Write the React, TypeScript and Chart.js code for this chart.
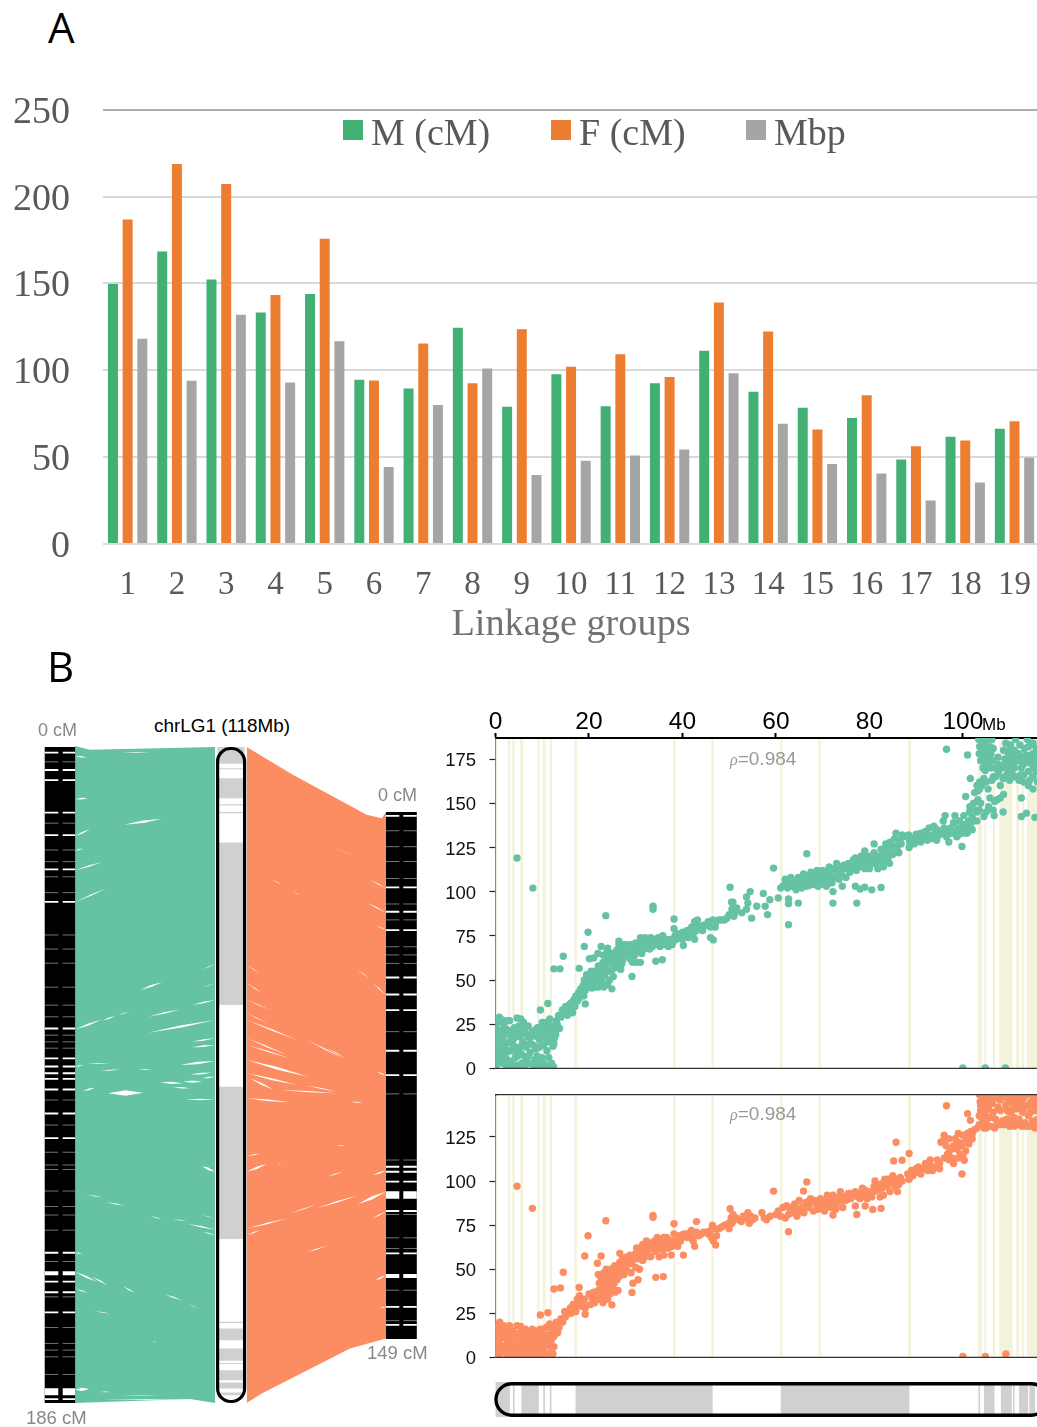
import React, { useEffect, useRef } from 'react';
import { Chart, registerables } from 'chart.js';
Chart.register(...registerables);

/* ---------- Panel A ---------- */
const groups = ['1','2','3','4','5','6','7','8','9','10','11','12','13','14','15','16','17','18','19'];
const maleLengths = [149.7,168.4,152.3,133.3,143.9,94.6,89.5,124.5,79,97.7,79.3,92.5,111.3,87.7,78.4,72.6,48.7,61.7,66.3];
const femaleLengths = [186.8,218.8,207.3,143.3,175.7,94.2,115.5,92.5,123.6,102,109.2,96.2,139,122.4,65.9,85.6,56.3,59.6,70.7];
const physicalLengths = [118.2,94,132,93,116.7,44.4,80,101,39.7,48,51,54.4,98.3,69.3,46,40.6,25,35.4,49.6];

/* ---------- Panel B: ideogram blocks (Mb) ---------- */
const ideogramBlocks = [[0,3],[3.8,4],[5.6,9.2],[10.3,10.5],[11.7,11.9],[17.2,46.4],[61.1,88.5],[103.4,103.6],[104.6,106.7],[108.2,110.4],[110.8,111],[112.1,113.9],[114.3,115.4],[116.1,116.6]];
const lowRecombination = [[0,0.3],[2.6,3.1],[3.6,4.1],[5.3,5.9],[8.9,9.4],[10.1,10.7],[11.6,12.1],[16.9,17.4],[38,38.5],[46.2,46.7],[60.9,61.4],[69.1,69.6],[88.3,88.9],[103.2,104.1],[104.6,105],[106.4,106.9],[107.8,110.6],[111.4,112.1],[112.6,113.1],[113.7,115.9],[116.2,117]];

/* linkage map gaps (cM), by thickness */
const leftGapsThin = [4.2,21.6,29.2,32.5,36.8,41.3,53.3,57.3,61.3,68.1,73.2,76.5,81.7,83.6,85.4,100.1,107.2,114.9,118.5,119.8,125.9,130.3,132.7,137,145.9,155.9,164.6,169.1,171,172.9,177.9];
const leftGapsMid = [1.6,6.5,9.4,18.6,25,34.7,43.9,79.8,88.3,90.6,92.5,94.1,97.1,103.9,110.9,143.4,151.6,154.6,160.3,184.9];
const leftGapsWide = [149.2];
const leftGapsHuge = [182.8];
const rightGapsThin = [5.3,9.8,14,18.8,26,30.5,38.1,40.4,42.8,62.1,79.7,98.4,113.8,120.4,123.4,135.2,143.8];
const rightGapsMid = [1.1,21.3,28.2,33.4,46.8,51.6,56,67.5,74.4,100.3,101.7,104.5,112.8,124.8,139.9,145];
const rightGapsWide = [131.2];
const rightGapsHuge = [108.3];

/* ribbons: [track position, Mb] */
const maleRibbonTop = [[75,-0.2],[90,0.5],[215,0]];
const maleRibbonBottom = [[75,118],[190,117.3],[215,118]];
const femaleRibbonTop = [[246.7,0],[293.3,5.04],[366.7,12.2],[381.7,12.8],[386,11.7]];
const femaleRibbonBottom = [[246.7,118],[261.7,116.3],[350,108.2],[386,106.4]];

/* gaps between links: [track from, Mb from, track to, Mb to, thickness in Mb] */
const maleSlivers = [
[124,14,162,12.9,.45],[75,16,90,14.8,.35],[75,22.2,102,20.7,.3],[75,27.9,107,25.4,.25],[140,43.7,162,42.3,.35],[75,50.8,102,49,.35],[103,49.2,115,48.4,.25],[118,48.2,129,47.6,.15],[148,48.5,180,47.2,.3],[192,46.4,215,45.5,.25],[148,51.4,215,49.1,.4],[192,53,215,52.4,.3],[192,54,215,53.6,.3],[203,40,215,39,.12],[203,43.2,215,42.5,.12],[122,1,150,1,.12],[75,9.4,88,9.2,.3],[75,18.6,83,18.3,.25],[75,1.6,87,1.9,.25],
[180,57.2,215,56.5,.45],[183,60.2,202,60.2,.4],[160,60.3,183,60.5,.4],[108,62.3,143,62.2,1],[190,58.9,212,58.6,.35],[185,63.4,215,63.4,.25],[202,59.6,215,59.3,.3],[173,61.2,190,61.4,.3],[83,61.9,95,61.3,.3],[75,57.5,83,57.2,.2],[87,56.9,110,56.9,.12],[100,58.3,120,58,.15],[138,58,152,58,.12],[202,75.4,215,76.4,.5],[87,80.6,103,81,.12],[106,81.9,125,82.5,.15],[150,84.3,162,85,.12],[172,85,187,85.2,.12],[188,85.8,215,86.8,.25],[203,87.2,215,87.8,.2],[202,84.2,215,84.8,.1],[75,94.4,97,96.2,.35],[92,95.3,108,96.8,.25],[123,97,135,98.2,.2],[165,98.5,182,99.5,.2],[188,100.2,198,101,.1],[95,101.5,110,101.9,.15],[152,106.8,157,107.1,.1],[75,115.6,89,115.5,.6],[100,116,110,116,.12],[102,117.4,190,117.3,.12],[120,116.7,160,116.7,.08],[75,97.4,88,98.2,.2],[75,91,82,91.1,.2]
];
const femaleSlivers = [
[272,23.8,282,24.8,.12],[293,26,300,26.6,.08],[370,23.9,386,25.4,.2],[367,28,386,29.8,.2],[377,32.2,386,32.9,.2],[335,18.2,355,19.7,.08],[247,39.2,260,40.7,.15],[247,42.5,262,44.3,.15],[247,45.5,270,47.3,.15],[247,47.9,268,49.7,.15],[247,49.1,297,52.7,.3],[307,52.7,343,56,.2],[357,40.1,370,41.6,.15],[373,42.5,386,44.6,.2],[247,52.4,287,55.4,.2],[247,53.6,290,56,.2],[328,54.2,345,56,.2],
[247,56.3,308,59.3,.5],[247,58.7,297,60.8,.35],[250,59.6,273,61.6,.4],[280,61.7,337,62.3,.2],[247,63.2,290,63.9,.3],[350,63.8,363,64,.2],[306,60.9,337,62,.18],[377,58.4,386,59.1,.2],[337,71.7,345,71.6,.12],[247,73.6,260,73.1,.15],[247,76.4,267,75,.45],[277,75.4,282,74.6,.1],[327,77.3,343,76.4,.15],[373,77,386,76.2,.3],[358,82.2,386,80,.6],[316,83,357,80.7,.3],[290,83.9,315,82.4,.2],[372,84.8,386,83.6,.25],[247,86.6,287,84.8,.25],[247,87.8,260,86.9,.25],[307,90.9,327,89.7,.2],[375,96,386,95,.3],[380,100.9,386,100.7,.2]
];

/* ---------- Panel B: marker positions [Mb, cM] ---------- */
const maleMarkers = [
[0.2,2],[0.3,6],[0.3,10],[0.4,14],[0.3,18],[0.4,22],[0.5,26],[0.8,29],[1.1,28],[1.3,3],[1.2,8],[1.3,12],[1.5,17],[1.6,22],[1.8,25],[2.2,27],[2.4,22],[2.6,1],[2.4,5],[2.7,10],[2.9,15],[2.7,20],[3,27],[3.2,4],[3.4,1],[3.6,14],[3.8,10],[4,17],[4.2,6],[4.4,2],[4.6,12],[4.6,28.5],[4.6,119],[5.2,18],[5.4,28],[5.6,3],[5.6,8],[5.8,15],[6,22],[6,26],[6.3,1],[6.4,6],[6.6,12],[6.8,18],[7,24],[7.3,3],[7.4,9],[7.6,14],[7.9,21],[8,102],[8.2,1],[8.4,5],[8.6,11],[8.8,18],[9,23],[9.2,3],[9.4,16],[9.5,22.5],[9.6,33],[9.7,1],[10,6],[10.2,18],[10.4,2.5],[10.6,17],[10.9,23],[11,10],[11.2,1.5],[11.2,36.7],[11.4,21],[11.6,28],[11.8,18],[12,3],[12.1,20],[12.3,12.5],[12.5,14],[12.4,1],[12.5,56.3],
[12.6,22],[13,27],[13.2,25],[13.7,22.6],[13.5,30],[13.8,56.3],[14,29],[14.3,33],[14.5,63.4],[14.8,31],[15,35],[15.4,30],[15.8,36],[16,33],[16.2,37],[16.5,31.5],[16.8,39],[17,35],[17.2,41],[17.5,38],[17.8,43],[17.9,56.6],[18,40],[18.2,45],[18.5,42],[18.8,47],[18.9,41],[19,50],[19,69],[19.2,44],[19.2,36.5],[19.6,48],[19.8,77],[19.9,51],[20.1,62],[20.2,47],[20.4,50],
[20.6,45.5],[20.9,48],[21,52],[21,62.5],[21.3,46],[21.6,49],[21.8,53],[21.9,65],[22,46],[22.2,51],[22.4,55],[22.6,47],[22.6,69],[22.8,50],[23,56],[23,60],[23.1,64],[23.2,46],[23.4,53],[23.6,58],[23.6,86.4],[23.8,62],[23.9,66],[24,47.5],[24.2,55],[24.4,50],[24.6,60],[24.7,64],[24.9,45],[25,56],[25.2,52],[25.4,59],[25.6,62],[25.8,66],[26,57],[26.2,63],[26.4,70],[26.5,60],[26.8,56],[26.9,67],[27,64],[27.2,61],[27.4,70],
[26.4,72],[27.5,68],[28,70],[28.4,66],[28.8,62],[29,70],[29.2,52],[29.3,60],[29.5,68],[29.8,64],[30,71],[30.2,60],[30.4,66],[30.8,70],[31,60],[31,74],[31,67],[31.4,71],[31.6,69],[32,74],[32.2,70],[32.6,72],[33,71],[33.2,74],[33.6,69],[33.7,91.7],[33.7,90],[34,73],[34.3,60.6],[34.4,70],[34.8,74],[35.2,69],[35.4,72],[35.7,61.5],[35.8,75],[36,70],[36.4,73],[36.8,71],[37,69],[37.4,73],[37.8,70],[38.2,84.5],[38.2,79],[38.4,75],[38.7,73],[39,76],[39.4,74],[40.2,69.5],[40,77],[40.5,75],[41,78],[41.3,74],[41.6,76],[42,80],[42.3,76],[42.6,83],[42.6,73],[43,78],[43.2,84],[43.5,80],[44,80],[44.5,81],[45,81],[45.5,83],[46,80],[46,74],[46.6,72.7],[46.5,84],[47,80],[47.2,83],[47.8,84],[48.4,84],[49,84],[49.5,85],[50,87],[50.2,102.5],[50.5,94],[50.8,94],[50.6,90],[51,86],[51.2,88],[51.5,90],
[51.6,90.7],[52.7,88],[53.7,90],[54.8,85],[54.5,100],[53.7,97],[54,93.5],[55.9,91.7],[57.3,99],[58.2,87],[57.7,91.7],[58.7,95.4],[60.5,96.4],[59.5,113.3],[61,102],[62,104.8],[62.7,95.8],[62.7,93.2],[62.7,81.3],[64.8,93.5],
[61.5,103],[62.5,102],[63,105],[63.5,103],[64,106],[64.3,101],[64.8,108],[65,104],[65.5,102],[65.9,110],[66,105],[66.6,121.4],[66.5,103],[67,108],[67.3,106],[67.5,111],[68,104],[68.2,109],[68.5,106],[69,103],[69,110],[69.5,107],[70,105],[70,112],[70.5,109],[70.8,103],[71,107],[71.4,114],[71.6,110],[72,105],[72.2,100],[72.2,93.5],[72.5,108],[73,112],[73,116],[73.5,107],[74,110],[74.2,103],[74.5,115],[75,113],[75.5,116],[76,113],[76.3,116],[76.8,114],[77,119],[77,103],[77.2,112],[77.3,93.5],[77.5,116],[78,114],[78,101.5],[78.2,120],[78.8,118],[79,123],[79,113],[79,102.5],[79.5,116],[80,120],[80,113],[80.5,118],[80.5,101],[81,127],[81,122],[81.2,116],[81.8,113],[82,120],[82.5,124],[82.5,102.3],[82.8,117],[83,114],[83.3,122],[83.5,127],[84,119],[84,125],[84.4,128],[84.7,122],[85,126],[85.4,130],[85.7,133],[86,126],[86.3,122],[86.5,129],[87,132],[87.5,131],[88.4,132],[88.5,125],[88.6,128],
[89,130],[89.6,127],[90,129],[90.4,131],[91,128],[91.5,131],[92,134],[92.4,129],[92.8,136],[93,131],[93.5,130],[93.8,137],[94,133],[94.4,129],[95,132],[95.5,134],[95.8,140],[96,136],[96.2,143],[96.5,180.5],[96.5,131],[96.8,134],[97,128],[97.5,133],[98,139],[98,134],[98.3,143],[98.7,131],[99,136],[99.3,140],[99.8,125.5],[99.8,133],[100.2,138],[100.6,153.8],[100.2,143],[100.8,133],[101,177.3],[101,137],[101.2,140],[101.4,145],[101.6,164],[101.5,148],[102,135],[102,142],[102.3,150],[102.5,156],[102.8,146],[103,160],[103.2,152],[103,140],[103.6,158],[103.8,150],[103.5,146],
[103.4,186],[103.6,182],[103.5,178],[103.8,174],[104,186],[104.2,180],[104.5,176],[104.7,183],[104.8,168.5],[105,172],[105.2,186],[105.3,179],[105.5,175],[105.8,182],[106,170],[106,178],[106.2,186],[106.3,174],[106.5,181],
[103.2,157],[103.6,162],[104,160],[104.5,164],[105,162],[105.4,158],[105.8,153],[106.2,163],[106.5,165],[106.8,151],[107,165],[107.3,152],[107.6,167],[108,160],[108,153],[108.3,170],[108.6,164],[108.7,155],[108.6,145],[109,172],[106.7,143],[106.5,146],[105.5,148],[105,145],[104.5,142.5],
[108.7,180],[109,175],[109.2,184],[109.5,170],[109.8,178],[110,173],[110.2,183],[110.5,167],[110.6,176],[111,180],[111,170],[111.3,186],[111.5,174],[111.8,165],[112,178],[112.2,183],[112.5,153],[112.5,142.5],[112.5,170],[112.8,176],[113,166],[113.2,181],[113.6,144.4],[113.5,173],[113.8,186],[114,168],[114,177],[114.3,163],[114.6,183],[114.8,172],[115,165],[115,178],[115.4,142],[115.4,175],[115.7,168],[115.8,181],[116,172],[116,162],
[100,0.2],[104.8,0.2],[109.1,0.2]
];
const maleMarkersDense = [
[62,107],[63.2,108],[64.4,104],[65.2,107],[66.2,109],[67,103.5],[68,107],[68.8,112],[69.8,109.5],[70.3,104],[71.2,111],[72.4,113],[73.3,110],[74,113],[75,108],[75.8,111],[76.6,118],[77.8,117],[78.4,116],[79.2,119],[80.3,115.5],[81.5,119],[82.2,117],[83.2,119],[84.3,116],[85,121],[86,123],[86.8,127],[24,68],[25,65],[25.3,61],[26,67],[27,59],[23.5,56],[22,58],[21.3,55],[20.5,55],[19.5,53],[28,64],[29,66],[30,68],[31.3,65],[32.4,68],[33,67.5],[34,71],[35,70.5],[36,73.5],[37.2,72],[38,71.5],[39,74],[40,73],[41,76],[43,81],[44.3,78],[90,132.5],[91,133],[92.6,132],[94.5,135],[96.2,133],[97.4,136],[99,132],[100,136],[101,133.5],[101.8,139],[103,145],
[104.3,170],[105,176],[105.6,171],[109.4,174],[110,180],[110.8,172],[111.2,177],[112,174],[112.4,166],[113,172],[113.4,177],[114,182],[114.4,174],[115,184],[115.2,170],[115.6,178],[109,165],[109.6,167],[110,163],[111,165],[112,163],[113,162],[114,160],[115,158],[107.5,176],[108,170],[107,170],[107.6,172],
[1,5],[1.7,12],[2,19],[2.2,14],[3.2,10],[3.3,21],[3.4,17],[4,23],[4.4,20],[4.8,7],[5,24],[5.2,12],[5.5,21],[6.4,20],[6.8,3],[7.1,14],[7.6,18],[8.2,13],[8.6,22],[8.9,7],[9.4,12],[9.8,19],[10.3,13],[10.7,21],[11.4,6],[11.5,15],[12,24],[12.6,17],[12.9,19],[10,26],[11,26],[2.2,2],[1.8,6],[2.3,9],[4.8,1.5],[7,7],[0.8,15],[0.9,21],[1,10],[5,10]
];

const femaleMarkers = [
[0.2,1],[0.3,4],[0.3,8],[0.4,12],[0.3,15],[0.5,18],[0.9,20],[1,2],[1.1,7],[1.2,11],[1.4,15],[1.8,18],[2,3],[2.2,6],[2.4,13],[2.5,1],[2.6,9],[2.8,17],[3,18],[3,4],[3.3,1],[3.5,11],[3.8,6],[4,14],[4.2,2],[4.4,8],[4.6,18],[4.6,97],[4.8,13],[5,1],[5.2,5],[5.4,17.5],[5.6,10],[5.8,13],[6,2],[6.2,7],[6.4,16],[6.6,1],[6.8,11],[7,4],[7.2,14],[7.4,1],[7.6,9],[7.9,16],[7.9,84.5],[8.1,3],[8.3,6],[8.5,12],[8.7,1],[8.9,15],[9.2,4],[9.4,10],[9.6,16],[9.6,24],[9.8,1],[10,7],[10.2,13],[10.4,3],[10.6,9],[10.8,17],[11,2],[11.2,7],[11.2,25.3],[11.4,13],[11.6,19],[11.9,4],[12,10],[12.2,14],[12.3,2],[12.5,6],[12.5,38.8],
[12.8,16],[13,20],[13.3,14],[13.6,17],[13.9,39.4],[14,22],[14.4,20],[14.5,48.3],[14.8,26],[15,23],[15.5,25],[16,28],[16.2,25],[16.6,30],[17,27],[17.2,26],[17.5,33],[17.8,30],[17.9,39.6],[18,35],[18.4,29],[18.8,31],[19,33],[19.1,57.5],[19.2,28],[19.2,24.5],[19.8,69],
[20,36],[20.3,30],[20.6,34],[21,37],[21.2,31],[21.5,33],[21.8,53.4],[22,38],[22.2,42],[22.4,33],[22.6,45],[22.6,57.5],[22.8,36],[23,31],[23,40],[23.2,48],[23.4,35],[23.6,43],[23.6,77.5],[23.7,50],[23.9,38],[24,33],[24.1,46],[24.3,41],[24.5,36],[24.6,50],[24.8,44],[24.9,29.8],[25,39],[25.2,47],[25.4,42],[25.6,37],[25.8,48],[26,44],[26.2,38],[26.3,50],[26.5,46],[26.6,54],[26.6,59],[27,52],[27.2,56],[27.4,50],[27.5,47],
[27.8,53],[28,57],[28.4,54],[28.8,58],[29,48],[29.2,53],[29.2,36.8],[29.4,42],[29.6,56],[30,59],[30,51],[30.2,62],[30.5,56],[30.5,44],[30.8,50],[31,62],[31.2,58],[31.5,64],[31.8,60],[32,57],[32.3,66],[32.6,60],[33,64],[33.2,57],[33.6,62],[33.7,80.5],[33.7,79.4],[34,66],[34.2,60],[34.3,45.4],[34.6,68],[35,63],[35,57],[35.3,66],[35.6,61],[35.9,45.8],[36,68],[36,58],[36.3,64],[36.6,68],[37,62],[37.2,66],[37.6,58],[37.8,63],
[38.2,70],[38.2,75.8],[38.5,66],[39,63],[39.4,69],[40,69.5],[40.2,58],[40.4,70],[41,70],[41.5,68],[41.9,72],[42.3,66],[42.5,70],[42.6,63],[43,71],[43,77],[44,70],[44.5,71],[45,71],[45.5,70],[46,72],[46.2,68],[46.4,75],[46.6,66],[47.1,63.7],[47,73],[47.3,69],[47.8,73],[48.4,74],[49,75],[49.8,76],[50,73],[50.2,84.3],[50.4,79],[50.6,76],[50.8,81],[51,78],[51.5,79],
[52,78],[52.6,77],[53,80],[53.5,79],[54,82],[54.3,76],[54.6,80],[55,78],[55.5,79],[57,82],[57.5,79],[58,78],[58.8,80],[59.5,94.3],[60,81],[60.5,83],[61,80],[61.5,85],
[62,79],[62.3,86],[62.7,81],[62.7,71.3],[63,84],[63.5,82],[64,87],[64.5,80],[64.8,83],[65,89],[65.5,85],[65.9,94.3],[66,82],[66.5,88],[66.6,99.5],[67,85],[67.4,90],[68,83],[68.5,87],[69,84],[69.5,90],[70,86],[70.4,83],[71,92],[71.3,88],[71.8,85],[72.2,92],[72.2,80.7],[72.5,88],[72.8,84],[73.4,91],[73.8,94],[74,89],[74.3,85],[74.9,91],[75.5,93],[76,90],[76.5,92],[77,94],[77,85.8],[77.3,81],[77.5,91],[78,93],[78.5,96],[79,92],[79.1,85.8],[79.5,90],[80,94],[80.5,91],[80.7,83.9],[81,94],[81.2,100],[81.6,95],[82,98],[82.3,91],[82.5,84.5],[82.8,96],[83,92],[83.3,101],[83.8,97],[84,101],[84.4,94],[84.7,99],[85,103],[85.2,111.4],[85.5,97],[85.7,100],[85.7,122],[86,94],[86.3,98],[86.6,102],[87,100],[87,111.8],
[88.2,104],[88.5,101],[88.5,115.6],[89,106],[89.3,103],[90,105],[90.5,108],[91,104],[91.5,107],[92,110],[92.5,106],[93,109],[93.5,106],[94,108],[94.5,112],[95,110],[95.3,122],[95.8,123],[96,126],[96.4,120],[96.5,142.7],[96.7,115],[97,112],[97,124],[97.5,118],[97.8,113],[98,110],[98.4,124],[98.8,118],[99,127],[99,113],[99.4,115],[99.8,120],[99.8,104],[100,126],[100.3,122],[100.3,111.8],[100.6,117],[101,127],[101,138.2],[101.3,121],[101.6,128],[101.6,134.4],[102,124],[102.4,129],
[103,130],[103.5,132],[103.5,149],[103.7,145],[103.8,140],[104,136],[104.2,148],[104.5,143],[104.5,130],[104.8,137],[105,149],[105,133],[105.3,145],[105.5,141],[105.8,148],[106,136],[106,131],[106.3,144],[106.5,139],[106.7,149],[106.8,130],[107,135],[107.5,133],[108,132],[108.5,134],[108.8,132],[109,148],[109.2,143],[109.4,135],[109.7,146],[110,139],[110,133],[110.3,149],[110.6,144],[110.9,136],[111,146],[111.3,133],[111.5,141],[111.8,148],[112,135],[112.3,145],[112.6,131],[112.8,139],[113,147],[113.3,133],[113.6,143],[113.9,149],[114,137],[114.3,131],[114.6,145],[114.9,134],[115.2,148],[115.4,130],[115.5,140],[115.8,144],[116,135],
[100,0.5],[104.8,0.5],[109.2,1.9]
];
const femaleMarkersDense = [
[63.4,85],[64.2,84],[65.3,82.5],[66.3,86],[67.2,88],[68.2,89],[69.3,87],[70.2,89],[71,86],[72,90],[73,87.5],[74,92],[75,89],[76,93],[77.2,92.5],[78,90],[79,95],[80.2,92.5],[81,97],[82,95],[83,99],[84,98],[85,99],[86,101],[22,47],[23,44],[24,43],[25,44],[25.5,52],[26,50],[24.5,47],[23.5,38],[22.2,35],[27,48],[28,50],[29,55],[30.5,60],[31.5,55],[32.5,62],[33.5,65],[34.5,62],[35.5,64],[36.5,62],[37.5,66],[38.8,68],[39.6,66],[41,68],[43.5,69],[90,107],[92,107],[93,112],[95,107],[96,113],[97,116],[98,120],[99,122],[100,114],[101,123],[102,127],
[104,143],[105,140],[106,145],[107,147],[108,146],[108,140],[109.5,140],[110.5,140],[111,141],[112,143],[112.5,147],[113,141],[114,143],[114.5,139],[115,143],[115.5,146],[104,132],[105,130],[107,131],[109,132],[110,131],[111,131],[112,132],[113.5,131],[115,132],[116,131],[104.5,146],[105.5,145],[106.5,147],[103.5,137],[103.8,143],[108.3,148],[107.5,142],
[0.7,10],[1.6,4],[2,11],[2.3,16],[3.3,8],[3.6,15],[4,10],[4.9,4],[5.2,14],[5.8,5],[6.4,12],[7,8],[7.8,5],[8,11],[8.5,2],[9,8],[9.6,12],[10.2,5],[10.8,12],[11.5,10],[12,17],[12.5,12],[5,8],[3.7,3]
];

const GREEN = '#66C2A5';
const CORAL = '#FC8D62';
const SERIF = '"Liberation Serif"';
const SANS = '"Liberation Sans"';

const sliverSets = (list: number[][]) => list.flatMap(([x0, y0, x1, y1, w]) => {
  const xm = (x0 + x1) / 2, ym = (y0 + y1) / 2;
  const base = { borderWidth: 0, pointRadius: 0, yAxisID: 'y', tension: 0 };
  return [
    { ...base, fill: false, data: [{ x: x0, y: y0 }, { x: xm, y: ym - w / 2 }, { x: x1, y: y1 }] },
    { ...base, fill: '-1', backgroundColor: '#fff', data: [{ x: x0, y: y0 }, { x: xm, y: ym + w / 2 }, { x: x1, y: y1 }] },
  ];
});
const ribbonSets = (top: number[][], bottom: number[][], color: string) => {
  const base = { borderWidth: 0, pointRadius: 0, yAxisID: 'y', tension: 0 };
  return [
    { ...base, fill: false, data: top.map(([x, y]) => ({ x, y })) },
    { ...base, fill: '-1', backgroundColor: color, data: bottom.map(([x, y]) => ({ x, y })) },
  ];
};
const gapSet = (values: number[], x0: number, x1: number, x2: number, x3: number, axis: string, width: number, color = '#fff') => ({
  borderWidth: width, borderColor: color, pointRadius: 0, yAxisID: axis, fill: false,
  data: values.flatMap(v => [{ x: x0, y: v }, { x: x1, y: v }, { x: x1, y: null }, { x: x2, y: v }, { x: x3, y: v }, { x: x3, y: null }]),
});
const THIN = 'rgba(255,255,255,0.45)';

const bandsPlugin = (frameTop: boolean) => ({
  id: 'bands',
  beforeDatasetsDraw(chart: any) {
    const { ctx, chartArea: a, scales } = chart;
    ctx.save();
    ctx.fillStyle = '#F3F3DC';
    lowRecombination.forEach(([from, to]) => {
      const l = scales.x.getPixelForValue(from), r = scales.x.getPixelForValue(to);
      ctx.fillRect(l, a.top + 1, r - l, a.bottom - a.top - 1);
    });
    ctx.restore();
  },
  afterDraw(chart: any) {
    const { ctx, chartArea: a } = chart;
    ctx.save();
    ctx.strokeStyle = '#333';
    ctx.lineWidth = 1.4;
    ctx.beginPath();
    ctx.moveTo(a.left, a.bottom); ctx.lineTo(a.right, a.bottom);
    if (frameTop) { ctx.moveTo(a.left, a.top); ctx.lineTo(a.right, a.top); }
    ctx.stroke();
    ctx.restore();
  },
});

const scatterConfig = (points: number[][], color: string, yMax: number, topAxis: boolean) => ({
  type: 'scatter',
  data: { datasets: [{ data: points.map(([x, y]) => ({ x, y })), pointRadius: 3.7, borderWidth: 0, backgroundColor: color, clip: 0 }] },
  plugins: [bandsPlugin(!topAxis)],
  options: {
    animation: false, responsive: false, events: [],
    layout: { autoPadding: false, padding: 0 },
    plugins: { legend: { display: false }, tooltip: { enabled: false } },
    scales: {
      x: {
        type: 'linear', position: 'top', min: 0, max: 118, display: topAxis, z: 1,
        afterFit: topAxis ? (s: any) => { s.height = 38; } : undefined,
        border: { color: '#000', width: 2 },
        grid: { drawOnChartArea: false, tickColor: '#000', tickWidth: 2, tickLength: 5 },
        ticks: { stepSize: 20, includeBounds: false, maxRotation: 0, padding: -4, color: '#000', font: { family: SANS, size: 24.5 } },
      },
      y: {
        min: 0, max: yMax, z: 1,
        afterFit: (s: any) => { s.width = 65.5; },
        border: { color: '#222', width: 1.4 },
        grid: { drawOnChartArea: false, tickColor: '#222', tickWidth: 1.2, tickLength: 6 },
        ticks: { stepSize: 25, includeBounds: false, padding: 13.5, labelOffset: 2, color: '#111', font: { family: SANS, size: 18.5 } },
      },
    },
  },
});

const Label = ({ left, top, size, color = '#000', family = SANS, children }: any) => (
  <div style={{ position: 'absolute', left, top, fontFamily: family, fontSize: size, color, lineHeight: 1, whiteSpace: 'nowrap' }}>{children}</div>
);
const Rho = ({ left, top }: any) => (
  <Label left={left} top={top} size={19} color="#999"><span style={{ fontFamily: SERIF, fontStyle: 'italic', fontSize: 16 }}>ρ</span>=0.984</Label>
);
const seriesColors = ['#42AF73', '#ED7D31', '#A5A5A5'];
const legendEntries = [
  { name: 'M (cM)', box: 343, text: 371 },
  { name: 'F (cM)', box: 551, text: 579 },
  { name: 'Mbp', box: 746, text: 774 },
];

export default function App() {
  const barRef = useRef<HTMLCanvasElement>(null);
  const ribbonRef = useRef<HTMLCanvasElement>(null);
  const maleRef = useRef<HTMLCanvasElement>(null);
  const femaleRef = useRef<HTMLCanvasElement>(null);
  const ideoRef = useRef<HTMLCanvasElement>(null);

  useEffect(() => {
    const charts: Chart[] = [];
    charts.push(new Chart(barRef.current as any, {
      type: 'bar',
      data: {
        labels: groups,
        datasets: [
          { label: 'M (cM)', data: maleLengths, backgroundColor: seriesColors[0] },
          { label: 'F (cM)', data: femaleLengths, backgroundColor: seriesColors[1] },
          { label: 'Mbp', data: physicalLengths, backgroundColor: seriesColors[2] },
        ],
      },
      options: {
        animation: false, responsive: false, events: [],
        layout: { autoPadding: false, padding: 0 },
        datasets: { bar: { categoryPercentage: 0.894, barPercentage: 0.68 } },
        plugins: { legend: { display: false }, tooltip: { enabled: false } },
        scales: {
          x: {
            afterFit: (s: any) => { s.height = 106; },
            grid: { display: false }, border: { display: false },
            ticks: { autoSkip: false, maxRotation: 0, padding: 14, color: '#595959', font: { family: SERIF, size: 33 } },
            title: { display: true, text: 'Linkage groups', color: '#767171', font: { family: SERIF, size: 38.3 }, padding: { top: 0, bottom: 2 } },
          },
          y: {
            min: 0, max: 250,
            afterFit: (s: any) => { s.width = 103; },
            border: { display: false },
            grid: { color: (c: any) => (c.tick.value === 250 ? '#ADADAD' : '#D9D9D9'), lineWidth: 2, tickColor: 'transparent', tickLength: 33 },
            ticks: { stepSize: 50, padding: 0, labelOffset: 3, color: '#595959', font: { family: SERIF, size: 38 } },
          },
        },
      },
    } as any));

    const ideogramPoints = ideogramBlocks.flatMap(([a, b]) => [{ x: 231, y: a }, { x: 231, y: b }, { x: 231, y: null }]);
    charts.push(new Chart(ribbonRef.current as any, {
      type: 'line',
      data: {
        datasets: [
          gapSet(leftGapsHuge, 44.7, 58.3, 62.7, 75.1, 'yL', 7),
          gapSet(leftGapsWide, 44.7, 58.3, 62.7, 75.1, 'yL', 4),
          gapSet(leftGapsMid, 44.7, 58.3, 62.7, 75.1, 'yL', 1.9),
          gapSet(leftGapsThin, 44.7, 58.3, 62.7, 75.1, 'yL', 1, THIN),
          gapSet(rightGapsHuge, 386, 399.3, 403.3, 416.8, 'yR', 7.5),
          gapSet(rightGapsWide, 386, 399.3, 403.3, 416.8, 'yR', 4),
          gapSet(rightGapsMid, 386, 399.3, 403.3, 416.8, 'yR', 1.9),
          gapSet(rightGapsThin, 386, 399.3, 403.3, 416.8, 'yR', 1, THIN),
          { borderWidth: 30.4, borderColor: '#000', pointRadius: 0, yAxisID: 'yL', fill: false, data: [{ x: 59.9, y: 0 }, { x: 59.9, y: 186 }] },
          { borderWidth: 30.8, borderColor: '#000', pointRadius: 0, yAxisID: 'yR', fill: false, data: [{ x: 401.4, y: 0 }, { x: 401.4, y: 149 }] },
          { borderWidth: 27, borderColor: '#D0D0D0', pointRadius: 0, yAxisID: 'y', fill: false, data: ideogramPoints },
          ...sliverSets(maleSlivers),
          ...sliverSets(femaleSlivers),
          ...ribbonSets(maleRibbonTop, maleRibbonBottom, GREEN),
          ...ribbonSets(femaleRibbonTop, femaleRibbonBottom, CORAL),
        ],
      },
      plugins: [{
        id: 'capsule',
        afterDatasetsDraw(chart: any) {
          const { ctx, scales } = chart;
          const l = scales.x.getPixelForValue(217.6), r = scales.x.getPixelForValue(244.6);
          const t = scales.y.getPixelForValue(0) + 1.5, b = scales.y.getPixelForValue(118) - 1.5;
          ctx.save();
          ctx.strokeStyle = '#000'; ctx.lineWidth = 3.2;
          ctx.beginPath(); ctx.roundRect(l, t, r - l, b - t, 13); ctx.stroke();
          ctx.restore();
        },
      }],
      options: {
        animation: false, responsive: false, events: [],
        layout: { autoPadding: false, padding: 0 },
        plugins: { legend: { display: false }, tooltip: { enabled: false } },
        scales: {
          x: { type: 'linear', min: 0, max: 440, display: false },
          y: { type: 'linear', min: -1.26, max: 119.26, reverse: true, display: false },
          yL: { type: 'linear', min: -1.985, max: 187.985, reverse: true, display: false },
          yR: { type: 'linear', min: -20.36, max: 169.07, reverse: true, display: false },
        },
      },
    } as any));

    charts.push(new Chart(maleRef.current as any, scatterConfig([...maleMarkers, ...maleMarkersDense], GREEN, 186.9, true) as any));
    charts.push(new Chart(femaleRef.current as any, scatterConfig([...femaleMarkers, ...femaleMarkersDense], CORAL, 149, false) as any));

    charts.push(new Chart(ideoRef.current as any, {
      type: 'bar',
      data: {
        labels: ['chrLG1'],
        datasets: ideogramBlocks.map(b => ({ data: [b], backgroundColor: '#D0D0D0', borderWidth: 0 })),
      },
      plugins: [{
        id: 'capsule',
        afterDatasetsDraw(chart: any) {
          const { ctx, scales, chartArea: a } = chart;
          const l = scales.x.getPixelForValue(0) + 0.5, r = scales.x.getPixelForValue(118);
          ctx.save();
          ctx.strokeStyle = '#000'; ctx.lineWidth = 3.4;
          ctx.beginPath(); ctx.roundRect(l, a.top + 1.7, r - l, a.bottom - a.top - 3.4, 16); ctx.stroke();
          ctx.restore();
        },
      }],
      options: {
        indexAxis: 'y', animation: false, responsive: false, events: [],
        layout: { autoPadding: false, padding: { left: 65.5, right: 0, top: 7, bottom: 8 } },
        datasets: { bar: { grouped: false, barPercentage: 1, categoryPercentage: 1 } },
        plugins: { legend: { display: false }, tooltip: { enabled: false } },
        scales: {
          x: { type: 'linear', min: 0, max: 118, display: false },
          y: { display: false },
        },
      },
    } as any));
    return () => charts.forEach(c => c.destroy());
  }, []);

  const place = (left: number, top: number): React.CSSProperties => ({ position: 'absolute', left, top, display: 'block' });
  return (
    <div style={{ position: 'absolute', left: 0, top: 0, width: 1037, height: 1427, overflow: 'hidden', background: '#fff' }}>
      <canvas ref={barRef} width={1045} height={563} style={place(0, 87)} />
      <canvas ref={ribbonRef} width={440} height={670} style={place(0, 740)} />
      <canvas ref={maleRef} width={617} height={393} style={place(430, 700)} />
      <canvas ref={femaleRef} width={617} height={312} style={place(430, 1070)} />
      <canvas ref={ideoRef} width={617} height={50} style={place(430, 1375)} />

      <Label left={48} top={6} size={42} family='"Open Sans"'>A</Label>
      <Label left={47} top={645} size={42} family='"Open Sans"'>B</Label>
      {legendEntries.map((e, i) => (
        <React.Fragment key={e.name}>
          <div style={{ position: 'absolute', left: e.box, top: 120, width: 20, height: 20, background: seriesColors[i] }} />
          <Label left={e.text} top={113} size={38} color="#595959" family={SERIF}>{e.name}</Label>
        </React.Fragment>
      ))}
      <Label left={38} top={721} size={18} color="#888">0 cM</Label>
      <Label left={154} top={717} size={18.9}>chrLG1 (118Mb)</Label>
      <Label left={378} top={786} size={18} color="#888">0 cM</Label>
      <Label left={367} top={1344} size={18.5} color="#888">149 cM</Label>
      <Label left={26} top={1409} size={18.5} color="#888">186 cM</Label>
      <Label left={982} top={716} size={17}>Mb</Label>
      <Rho left={730} top={749} />
      <Rho left={730} top={1104} />
    </div>
  );
}
